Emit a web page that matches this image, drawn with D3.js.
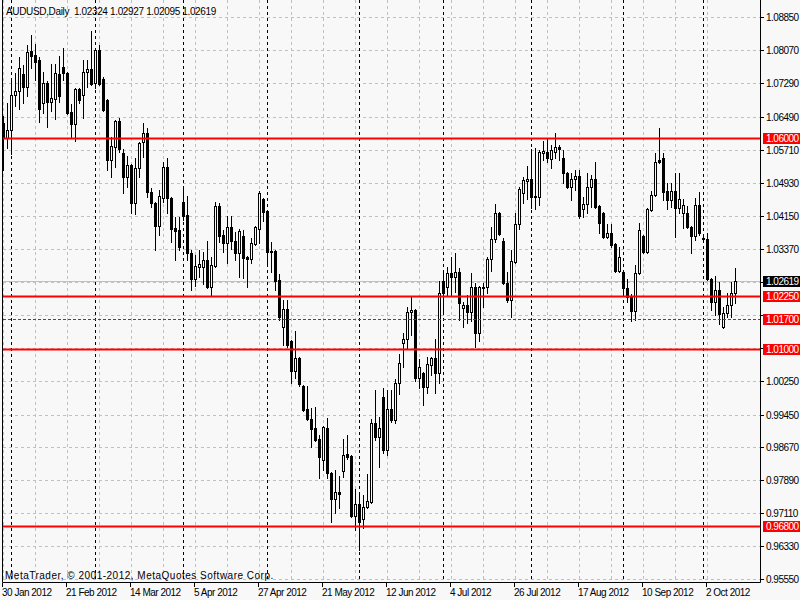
<!DOCTYPE html>
<html><head><meta charset="utf-8">
<script src="https://cdn.jsdelivr.net/npm/d3@7"></script>
<style>
html,body{margin:0;padding:0;background:#f8f8f8;}
svg{display:block;font-family:"Liberation Sans",Arial,sans-serif;font-size:10px;}
</style>
</head><body>
<svg id="chart" width="800" height="600"></svg>
<script>
const symbol = "AUDUSD,Daily";
const firstDay = "2012-01-30";
const open = [
1.0635,1.0599,1.0618,1.0701,1.0711,1.0751,1.0720,1.0806,1.0796,1.0784,
1.0682,1.0730,1.0685,1.0692,1.0751,1.0767,1.0753,1.0661,1.0633,1.0715,
1.0701,1.0756,1.0763,1.0730,1.0808,1.0739,1.0689,1.0547,1.0578,1.0640,
1.0564,1.0507,1.0535,1.0446,1.0528,1.0590,1.0611,1.0471,1.0446,1.0391,
1.0457,1.0531,1.0457,1.0386,1.0382,1.0448,1.0417,1.0327,1.0266,1.0294,
1.0294,1.0311,1.0247,1.0296,1.0438,1.0370,1.0351,1.0389,1.0356,1.0327,
1.0367,1.0318,1.0313,1.0348,1.0384,1.0455,1.0427,1.0332,1.0332,1.0263,
1.0152,1.0195,1.0119,1.0048,1.0079,1.0012,0.9958,0.9934,0.9913,0.9887,
0.9837,0.9913,0.9807,0.9745,0.9761,0.9811,0.9851,0.9847,0.9705,0.9733,
0.9698,0.9726,0.9738,0.9925,0.9892,0.9986,0.9861,0.9958,0.9932,1.0020,
1.0114,1.0124,1.0188,1.0192,1.0031,1.0043,1.0010,1.0062,1.0079,1.0043,
1.0261,1.0247,1.0280,1.0270,1.0282,1.0197,1.0204,1.0188,1.0247,1.0138,
1.0247,1.0247,1.0313,1.0360,1.0422,1.0356,1.0256,1.0216,1.0306,1.0396,
1.0469,1.0498,1.0502,1.0462,1.0460,1.0564,1.0566,1.0550,1.0566,1.0578,
1.0552,1.0517,1.0483,1.0502,1.0509,1.0431,1.0443,1.0483,1.0502,1.0438,
1.0422,1.0365,1.0375,1.0348,1.0285,1.0282,1.0244,1.0223,1.0190,1.0280,
1.0367,1.0329,1.0429,1.0464,1.0547,1.0552,1.0474,1.0453,1.0474,1.0434,
1.0422,1.0422,1.0389,1.0367,1.0441,1.0363,1.0360,1.0266,1.0211,1.0240,
1.0152,1.0185,1.0204,1.02324];
const high = [
1.0652,1.0682,1.0739,1.0753,1.0791,1.0772,1.0820,1.0843,1.0822,1.0791,
1.0756,1.0734,1.0775,1.0775,1.0794,1.0812,1.0756,1.0680,1.0718,1.0718,
1.0784,1.0784,1.0853,1.0812,1.0820,1.0744,1.0691,1.0602,1.0642,1.0647,
1.0573,1.0557,1.0538,1.0552,1.0590,1.0635,1.0623,1.0481,1.0448,1.0476,
1.0543,1.0552,1.0460,1.0412,1.0412,1.0483,1.0462,1.0334,1.0322,1.0334,
1.0329,1.0356,1.0318,1.0448,1.0446,1.0382,1.0415,1.0415,1.0377,1.0384,
1.0382,1.0320,1.0363,1.0391,1.0474,1.0457,1.0429,1.0353,1.0334,1.0277,
1.0216,1.0216,1.0121,1.0143,1.0081,1.0015,1.0012,0.9960,0.9963,0.9896,
0.9918,0.9937,0.9809,0.9814,0.9799,0.9887,0.9896,0.9849,0.9769,0.9759,
0.9754,0.9804,0.9934,1.0003,0.9939,1.0008,1.0003,1.0003,1.0029,1.0088,
1.0138,1.0199,1.0223,1.0195,1.0076,1.0045,1.0081,1.0081,1.0124,1.0261,
1.0280,1.0294,1.0318,1.0327,1.0292,1.0211,1.0228,1.0280,1.0256,1.0249,
1.0256,1.0318,1.0389,1.0443,1.0424,1.0363,1.0282,1.0334,1.0422,1.0483,
1.0507,1.0533,1.0573,1.0576,1.0571,1.0592,1.0599,1.0583,1.0611,1.0583,
1.0571,1.0519,1.0517,1.0524,1.0524,1.0460,1.0517,1.0512,1.0543,1.0441,
1.0424,1.0396,1.0396,1.0351,1.0341,1.0285,1.0266,1.0230,1.0299,1.0398,
1.0370,1.0434,1.0474,1.0564,1.0623,1.0564,1.0493,1.0493,1.0517,1.0517,
1.0455,1.0438,1.0391,1.0457,1.0472,1.0367,1.0375,1.0268,1.0273,1.0259,
1.0199,1.0233,1.0259,1.02927];
const low = [
1.0524,1.0576,1.0562,1.0675,1.0668,1.0682,1.0698,1.0765,1.0737,1.0637,
1.0659,1.0625,1.0663,1.0644,1.0685,1.0737,1.0656,1.0602,1.0592,1.0682,
1.0647,1.0720,1.0725,1.0718,1.0725,1.0664,1.0524,1.0507,1.0531,1.0566,
1.0469,1.0483,1.0422,1.0419,1.0507,1.0554,1.0460,1.0436,1.0334,1.0370,
1.0448,1.0422,1.0353,1.0311,1.0334,1.0405,1.0311,1.0240,1.0249,1.0270,
1.0254,1.0245,1.0228,1.0294,1.0353,1.0329,1.0304,1.0337,1.0311,1.0270,
1.0268,1.0247,1.0304,1.0346,1.0351,1.0403,1.0304,1.0282,1.0240,1.0169,
1.0109,1.0105,1.0020,1.0031,1.0012,0.9953,0.9932,0.9868,0.9883,0.9795,
0.9814,0.9795,0.9691,0.9712,0.9724,0.9797,0.9839,0.9702,0.9672,0.9624,
0.9676,0.9724,0.9735,0.9885,0.9821,0.9854,0.9849,0.9927,0.9925,0.9993,
1.0057,1.0102,1.0133,1.0024,1.0008,0.9967,0.9996,1.0038,0.9996,1.0020,
1.0185,1.0228,1.0228,1.0235,1.0169,1.0152,1.0162,1.0166,1.0105,1.0119,
1.0199,1.0233,1.0285,1.0353,1.0370,1.0254,1.0211,1.0176,1.0304,1.0384,
1.0446,1.0455,1.0434,1.0431,1.0441,1.0547,1.0543,1.0528,1.0552,1.0547,
1.0493,1.0481,1.0453,1.0476,1.0410,1.0412,1.0422,1.0436,1.0434,1.0375,
1.0363,1.0363,1.0341,1.0282,1.0282,1.0233,1.0211,1.0166,1.0169,1.0278,
1.0327,1.0327,1.0427,1.0462,1.0541,1.0453,1.0431,1.0436,1.0365,1.0422,
1.0386,1.0386,1.0327,1.0358,1.0370,1.0358,1.0263,1.0192,1.0180,1.0159,
1.0150,1.0176,1.0176,1.02095];
const close = [
1.0599,1.0618,1.0701,1.0711,1.0765,1.0720,1.0803,1.0794,1.0779,1.0668,
1.0730,1.0685,1.0694,1.0753,1.0698,1.0753,1.0659,1.0633,1.0715,1.0689,
1.0756,1.0763,1.0727,1.0808,1.0727,1.0666,1.0547,1.0580,1.0640,1.0573,
1.0507,1.0535,1.0446,1.0528,1.0588,1.0611,1.0471,1.0446,1.0391,1.0462,
1.0531,1.0457,1.0384,1.0379,1.0341,1.0415,1.0327,1.0266,1.0296,1.0301,
1.0311,1.0247,1.0299,1.0438,1.0367,1.0351,1.0389,1.0356,1.0327,1.0379,
1.0315,1.0313,1.0351,1.0389,1.0469,1.0424,1.0329,1.0329,1.0261,1.0176,
1.0195,1.0109,1.0048,1.0079,1.0017,0.9955,0.9934,0.9910,0.9885,0.9844,
0.9915,0.9807,0.9745,0.9761,0.9757,0.9849,0.9844,0.9705,0.9733,0.9691,
0.9726,0.9740,0.9925,0.9892,0.9913,0.9861,0.9958,0.9932,1.0020,1.0067,
1.0124,1.0188,1.0192,1.0031,1.0057,1.0010,1.0064,1.0079,1.0043,1.0233,
1.0233,1.0280,1.0270,1.0282,1.0209,1.0204,1.0188,1.0247,1.0138,1.0247,
1.0244,1.0313,1.0360,1.0422,1.0372,1.0256,1.0216,1.0308,1.0396,1.0479,
1.0500,1.0502,1.0460,1.0460,1.0566,1.0569,1.0552,1.0571,1.0578,1.0573,
1.0517,1.0483,1.0502,1.0509,1.0415,1.0443,1.0483,1.0502,1.0436,1.0398,
1.0365,1.0375,1.0346,1.0285,1.0318,1.0244,1.0223,1.0190,1.0280,1.0382,
1.0329,1.0431,1.0464,1.0543,1.0543,1.0471,1.0453,1.0474,1.0434,1.0455,
1.0441,1.0389,1.0367,1.0441,1.0375,1.0360,1.0266,1.0211,1.0240,1.0183,
1.0185,1.0204,1.0233,1.02619];
const yTickValues = [1.08850,1.08070,1.07290,1.06490,1.05710,1.04930,1.04150,1.03370,
  1.02590,1.01810,1.01030,1.00250,0.99450,0.98670,0.97890,0.97110,0.96330,0.95550];
const levelLines = [1.06000, 1.02250, 1.01000, 0.96800];
const dashedLevels = [1.01700];
const bidPrice = 1.02619;
const copyright = "MetaTrader, \u00A9 2001-2012, MetaQuotes Software Corp.";

// trading days (Mon-Fri) starting at firstDay
const dates = [];
{
  let d = new Date(firstDay + "T00:00:00Z");
  while (dates.length < open.length) {
    const wd = d.getUTCDay();
    if (wd !== 0 && wd !== 6) dates.push(new Date(d));
    d = new Date(d.getTime() + 86400000);
  }
}
const bars = dates.map((d, i) => ({i, d, o: open[i], h: high[i], l: low[i], c: close[i]}));

const svg = d3.select("#chart");
const BG = "#f8f8f8";
const plotL = 2, plotR = 760, plotB = 582;

const x = d3.scaleBand().domain(d3.range(bars.length)).range([1, 1 + 4 * bars.length]).padding(0);
const cx = i => x(i) + 2;
const y = d3.scaleLinear().domain([0.95550, 1.08850]).range([579.3, 17.3]);
const ry = v => Math.round(y(v));

svg.append("rect").attr("width", 800).attr("height", 600).attr("fill", BG);

// horizontal grid
svg.append("g").selectAll("line").data(yTickValues).join("line")
  .attr("x1", plotL + 1).attr("x2", plotR)
  .attr("y1", d => ry(d) + 0.5).attr("y2", d => ry(d) + 0.5)
  .attr("stroke", "#c0c0c0").attr("stroke-dasharray", "3,3");

// vertical grid every 8 bars
const gridIdx = bars.filter(b => b.i % 8 === 0).map(b => b.i);
svg.append("g").selectAll("line").data(gridIdx).join("line")
  .attr("x1", d => cx(d) + 0.5).attr("x2", d => cx(d) + 0.5)
  .attr("y1", 0).attr("y2", plotB)
  .attr("stroke", "#c0c0c0").attr("stroke-dasharray", "3,3");

// month separators
const sepIdx = bars.filter(b => b.i > 0 && b.d.getUTCMonth() !== dates[b.i - 1].getUTCMonth()).map(b => b.i);
svg.append("g").selectAll("line").data(sepIdx).join("line")
  .attr("x1", d => cx(d) + 0.5).attr("x2", d => cx(d) + 0.5)
  .attr("y1", 0).attr("y2", plotB)
  .attr("stroke", "#000").attr("stroke-dasharray", "3,3");

// bid line
svg.append("line").attr("x1", plotL + 1).attr("x2", plotR)
  .attr("y1", ry(bidPrice) + 0.5).attr("y2", ry(bidPrice) + 0.5)
  .attr("stroke", "#c0c0c0");

// watermark
svg.append("text").attr("x", 5).attr("y", 579).attr("fill", "#000")
  .attr("letter-spacing", "0.5px").text(copyright);

// candles
const cg = svg.append("g");
cg.selectAll("line.wick").data(bars).join("line").attr("class", "wick")
  .attr("x1", d => cx(d.i) + 0.5).attr("x2", d => cx(d.i) + 0.5)
  .attr("y1", d => ry(d.h)).attr("y2", d => ry(d.l) + 1)
  .attr("stroke", "#000");
cg.selectAll("rect.bear").data(bars.filter(b => b.c < b.o)).join("rect").attr("class", "bear")
  .attr("x", d => cx(d.i) - 1).attr("width", 3)
  .attr("y", d => ry(d.o)).attr("height", d => ry(d.c) - ry(d.o) + 1)
  .attr("fill", "#000");
cg.selectAll("rect.bull").data(bars.filter(b => b.c >= b.o)).join("rect").attr("class", "bull")
  .attr("x", d => cx(d.i) - 0.5).attr("width", 2)
  .attr("y", d => ry(d.c) + 0.5).attr("height", d => ry(d.o) - ry(d.c))
  .attr("fill", BG).attr("stroke", "#000");

// level lines
svg.append("g").selectAll("line").data(levelLines).join("line")
  .attr("x1", plotL + 1).attr("x2", plotR)
  .attr("y1", d => ry(d) + 0.5).attr("y2", d => ry(d) + 0.5)
  .attr("stroke", "#ff0000").attr("stroke-width", 2);
svg.append("g").selectAll("line").data(dashedLevels).join("line")
  .attr("x1", plotL + 1).attr("x2", plotR)
  .attr("y1", d => ry(d) + 0.5).attr("y2", d => ry(d) + 0.5)
  .attr("stroke", "#ff0000").attr("stroke-dasharray", "3,2");

// frame
svg.append("path")
  .attr("d", `M${plotL + 0.5},0 V${plotB + 0.5} H${plotR + 0.5} V0`)
  .attr("fill", "none").attr("stroke", "#000");

// y axis (tick labels hidden behind a price tag are skipped)
const fmt = d3.format(".5f");
const tagData = levelLines.concat(dashedLevels).map(v => ({v, bg: "#ff0000"}))
  .concat([{v: bidPrice, bg: "#000000"}]);
const hidden = v => tagData.some(t => Math.abs(ry(t.v) - ry(v)) < 8);
const ya = svg.append("g");
ya.selectAll("line").data(yTickValues).join("line")
  .attr("x1", plotR + 1).attr("x2", plotR + 4)
  .attr("y1", d => ry(d) + 0.5).attr("y2", d => ry(d) + 0.5).attr("stroke", "#000");
ya.selectAll("text").data(yTickValues.filter(v => !hidden(v))).join("text")
  .attr("x", 766).attr("y", d => ry(d) + 4).attr("letter-spacing", "-0.5px")
  .attr("fill", "#000").text(d => fmt(d));

// price tags
const tags = svg.append("g").selectAll("g").data(tagData).join("g");
tags.append("rect").attr("x", 763).attr("width", 37)
  .attr("y", d => ry(d.v) - 5).attr("height", 11).attr("fill", d => d.bg);
tags.append("text").attr("x", 766).attr("y", d => ry(d.v) + 4)
  .attr("letter-spacing", "-0.5px").attr("fill", "#fff").text(d => fmt(d.v));

// x axis
const xf = d3.utcFormat("%-d %b %Y");
const xTickIdx = bars.filter(b => b.i % 16 === 0).map(b => b.i);
const xa = svg.append("g");
xa.selectAll("line").data(xTickIdx).join("line")
  .attr("x1", d => cx(d) - 0.5).attr("x2", d => cx(d) - 0.5)
  .attr("y1", plotB + 1).attr("y2", plotB + 5).attr("stroke", "#000");
xa.selectAll("text").data(xTickIdx).join("text")
  .attr("x", d => cx(d) - 1).attr("y", 596).attr("letter-spacing", "-0.5px")
  .attr("fill", "#000").text(d => xf(dates[d]));

// header
const last = bars[bars.length - 1];
svg.append("text").attr("x", 6).attr("y", 15).attr("fill", "#000")
  .attr("letter-spacing", "-0.35px").attr("xml:space", "preserve")
  .text(`${symbol}  ${fmt(last.o)} ${fmt(last.h)} ${fmt(last.l)} ${fmt(last.c)}`);
</script>
</body></html>
